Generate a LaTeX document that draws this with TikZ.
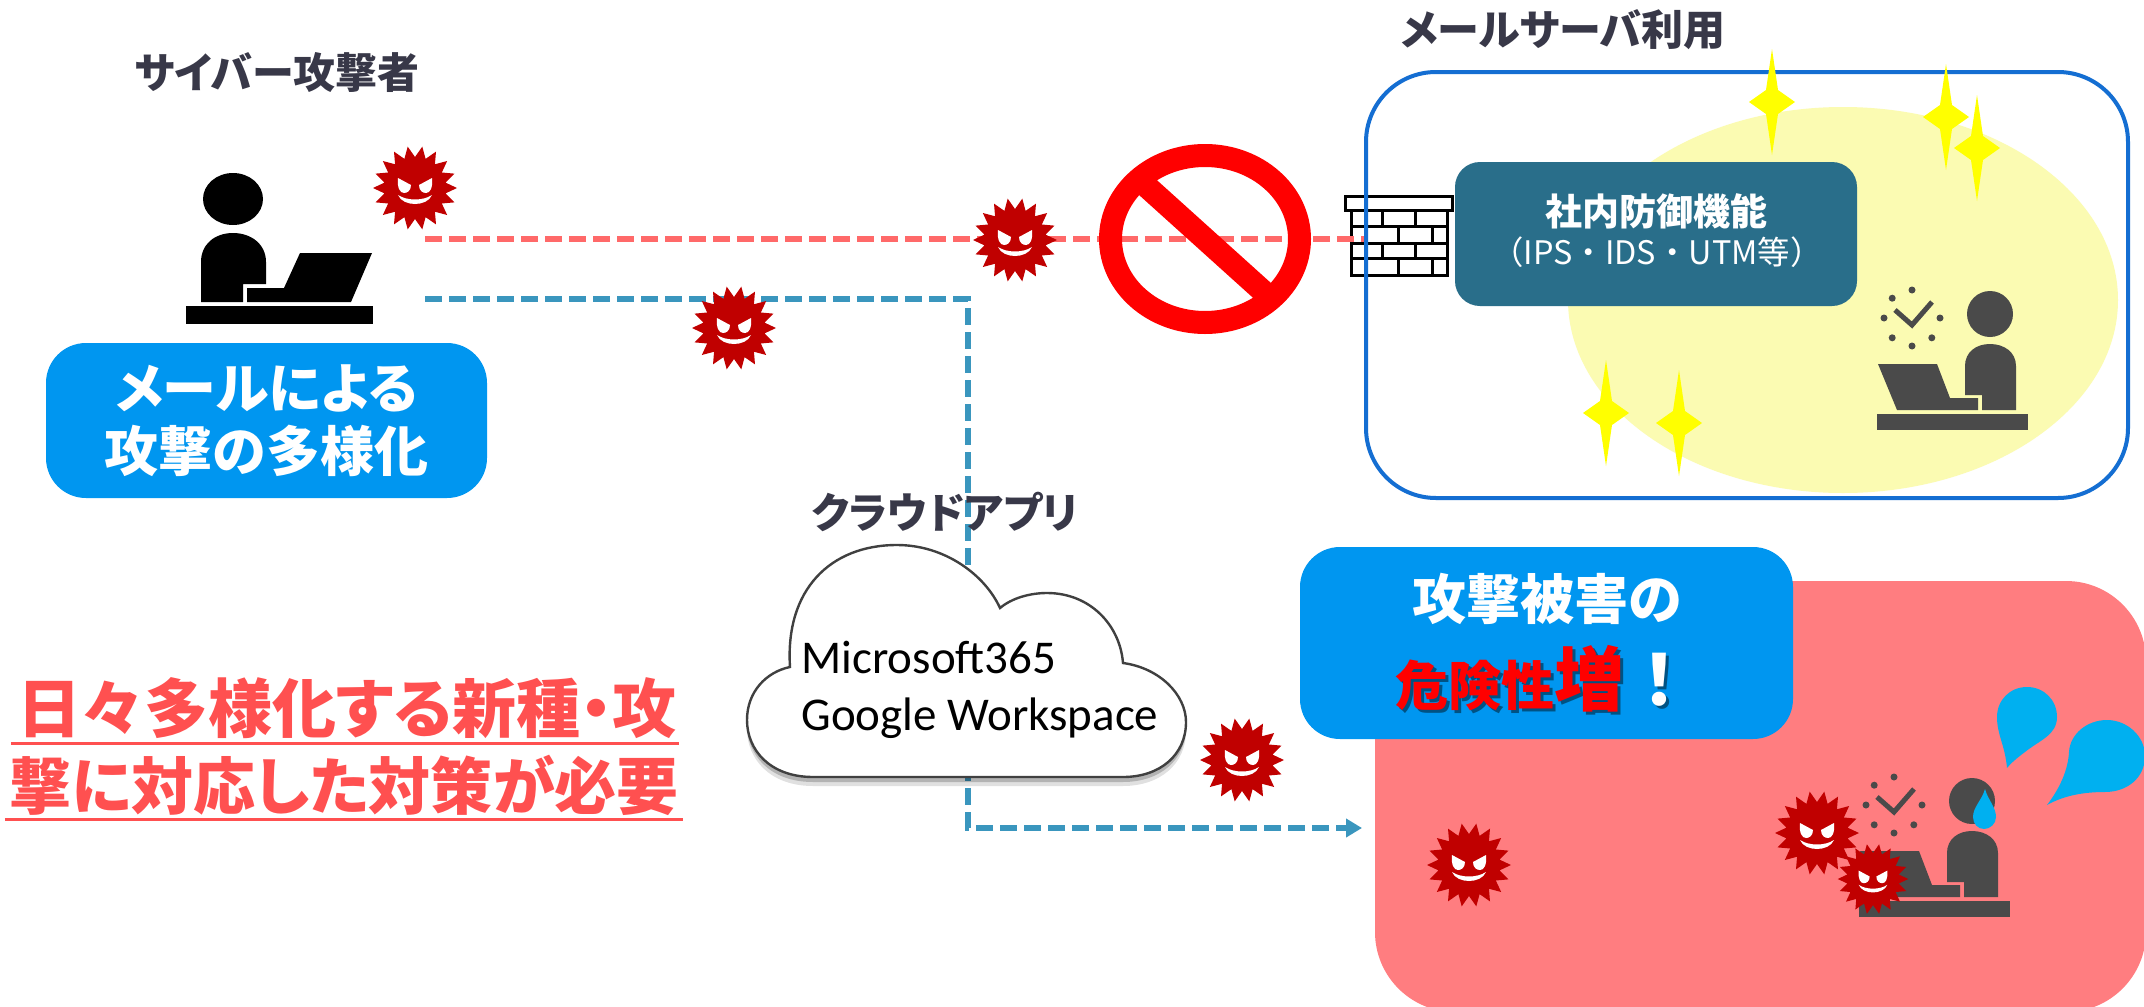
\documentclass[tikz,border=0pt]{standalone}
\usepackage{fontspec}
\usepackage{tikz}
\usetikzlibrary{arrows.meta}

\newfontfamily\jp{Noto Sans CJK JP}[RawFeature=+palt]
\newfontfamily\jpwide{Noto Sans CJK JP}
\newfontfamily\cloudfont{Carlito}

\definecolor{boxblue}{RGB}{0,150,240}
\definecolor{guardteal}{RGB}{41,110,138}
\definecolor{frameblue}{RGB}{20,110,210}
\definecolor{harmpink}{RGB}{255,125,128}
\definecolor{virusred}{RGB}{192,0,0}
\definecolor{mailred}{RGB}{255,105,105}
\definecolor{mailblue}{RGB}{58,150,190}
\definecolor{alertred}{RGB}{255,80,80}
\definecolor{headgray}{RGB}{56,56,72}
\definecolor{workgray}{RGB}{74,74,74}
\definecolor{sweatblue}{RGB}{0,176,240}
\definecolor{sparkyellow}{RGB}{255,255,0}
\definecolor{glowyellow}{RGB}{251,251,178}

\newcommand{\cloudpath}{(813,777) .. controls (770,777) and (747,750) .. (747,720)
	.. controls (747,692) and (766,672) .. (790,667)
	.. controls (785,590) and (830,545) .. (897,545)
	.. controls (945,545) and (985,575) .. (1000,608)
	.. controls (1012,598) and (1030,593) .. (1047,593)
	.. controls (1090,593) and (1120,625) .. (1123,663)
	.. controls (1160,668) and (1186,695) .. (1186,722)
	.. controls (1186,755) and (1160,777) .. (1123,777) -- cycle}

\begin{document}
\begin{tikzpicture}[%
		x=0.5pt, y=-0.5pt,
		headline/.style={inner sep=0pt, text=headgray, font=\jp\bfseries\fontsize{21}{21}\selectfont},
		boxtext/.style={inner sep=0pt, text=white, align=center, font=\jp\bfseries\fontsize{27}{31.5}\selectfont},
		slogan/.style={inner sep=0pt, text=alertred, font=\jp\bfseries\fontsize{32}{32}\selectfont},
		cloudtext/.style={inner sep=0pt, anchor=base west, font=\cloudfont\fontsize{23.5}{23.5}\selectfont},
		mailline/.style={line width=3pt, dash pattern=on 8.5pt off 3.5pt},
		virus/.pic={
			\fill[virusred] (0:42) \foreach \a in {0,20,...,340} {-- (\a:42) -- (\a+10:31)} -- cycle;
			\fill[white] (-17,-10) -- (-4,-3) .. controls (-4,3) and (-8,5) .. (-11,5) .. controls (-15,5) and (-18,0) .. cycle;
			\fill[white] (17,-10) -- (4,-3) .. controls (4,3) and (8,5) .. (11,5) .. controls (15,5) and (18,0) .. cycle;
			\fill[white] (-17,7) .. controls (-8,13) and (8,13) .. (17,7) .. controls (12,19) and (-12,19) .. cycle;
		},
		sparkle/.pic={
			\fill[sparkyellow] (0,-53) -- (6,-12) -- (23,0) -- (6,12) -- (0,53) -- (-6,12) -- (-23,0) -- (-6,-12) -- cycle;
		},
		worker/.pic={
			\fill[workgray] (0,0) circle [radius=23];
			\fill[workgray] (26,96) -- (26,52) .. controls (26,38) and (14,30) .. (0,30) .. controls (-14,30) and (-25,38) .. (-25,52) -- (-25,81) -- (-8,81) -- (-8,96) -- cycle;
			\fill[workgray] (-112,50) -- (-53,50) -- (-40,84) -- (-12,84) -- (-12,96) -- (-93,96) -- cycle;
			\fill[workgray] (-113,100) rectangle (38,116);
			\foreach \a in {0,45,...,270} \fill[workgray] (-78,4) ++(\a:28) circle [radius=3.5];
			\draw[workgray, line width=2.5pt] (-95,-4) -- (-78,11) -- (-58,-12);
		}]
	\useasboundingbox (0,0) rectangle (2144,1007);
	\fill[white] (0,0) rectangle (2144,1007);

	\fill[harmpink, rounded corners=40pt] (1375,581) rectangle (2146,1012);
	\fill[glowyellow] (1843,300) ellipse [x radius=275, y radius=193];
	\node[fill=guardteal, rounded corners=12.5pt, minimum width=201pt, minimum height=72pt] (guard) at (1656,234) {};
	\node[inner sep=0pt, text=white, font=\jp\bfseries\fontsize{18.5}{18.5}\selectfont] (guard-name) at (1656,211) {社内防御機能};
	\node[inner sep=0pt, text=white, font=\jpwide\fontsize{16.2}{16.2}\selectfont] (guard-list) at (1657,252) {（IPS・IDS・UTM等）};

	\begin{scope}[line width=1.5pt]
		\filldraw[fill=white] (1345,196) rectangle (1452,210);
		\filldraw[fill=white] (1351,210) rectangle (1447,275);
		\draw (1351,226) -- (1447,226) (1351,243) -- (1447,243) (1351,258) -- (1447,258);
		\foreach \x in {1382,1415} \draw (\x,210) -- (\x,226) (\x,243) -- (\x,258);
		\foreach \x in {1365,1398,1432} \draw (\x,226) -- (\x,243) (\x,258) -- (\x,275);
	\end{scope}

	\coordinate (atk-mail) at (425,239);
	\coordinate (wall-in) at (1366,239);
	\coordinate (atk-app) at (425,299);
	\coordinate (app) at (968,690);
	\coordinate (harm-in) at (1362,828);
	\draw[mailline, mailred] (atk-mail) -- (wall-in);
	\draw[mailline, mailblue, -{Triangle[length=8pt, width=9pt]}] (atk-app) -| (app) |- (harm-in);

	\draw[frameblue, line width=2pt, rounded corners=35pt] (1366,72) rectangle (2128,498);
	\foreach \p in {(1772,102), (1946,117), (1977,148), (1606,413), (1679,423)}
		\pic at \p {sparkle};
	\pic at (1990,314) {worker};

	\fill[black, opacity=0.12, shift={(0,9)}] \cloudpath;
	\fill[black, opacity=0.2, shift={(0,5)}] \cloudpath;
	\filldraw[fill=white, draw=black!75, line width=1.2pt] \cloudpath;
	\node[cloudtext] (ms365) at (801,673) {Microsoft365};
	\node[cloudtext] (gws) at (801,730) {Google Workspace};

	\draw[red, line width=11.5pt] (1205,239) ellipse [x radius=94.5, y radius=83.5];
	\begin{scope}
		\clip (1205,239) ellipse [x radius=100, y radius=89];
		\draw[red, line width=11.5pt] (1205,239) ++(-112,-101) -- ++(224,202);
	\end{scope}

	\fill[black] (233,199) ellipse [x radius=30, y radius=26];
	\fill[black] (201,302) -- (201,262) .. controls (201,244) and (215,233) .. (233,233) .. controls (251,233) and (266,244) .. (266,262) -- (266,284) -- (243,284) -- (243,302) -- cycle;
	\fill[black] (247,288) -- (284,288) -- (300,253) -- (372,253) -- (351,302) -- (247,302) -- cycle;
	\fill[black] (186,306) rectangle (373,324);

	\pic at (1972,801) {worker};
	\fill[sweatblue] (1985,789) .. controls (1988,800) and (1996,807) .. (1996,817) .. controls (1996,824) and (1990,829) .. (1984,829) .. controls (1978,829) and (1973,824) .. (1973,817) .. controls (1973,807) and (1982,800) .. cycle;
	\fill[sweatblue] (2007,768) .. controls (2005,745) and (1997,735) .. (1997,717) .. controls (1997,700) and (2010,687) .. (2027,687) .. controls (2044,687) and (2057,700) .. (2057,717) .. controls (2057,735) and (2040,740) .. (2025,752) .. controls (2017,758) and (2011,763) .. cycle;
	\fill[sweatblue] (2047,805) .. controls (2060,788) and (2068,770) .. (2069,752) .. controls (2070,734) and (2087,720) .. (2107,720) .. controls (2127,720) and (2145,736) .. (2145,756) .. controls (2145,778) and (2127,792) .. (2105,792) .. controls (2085,792) and (2065,795) .. cycle;

	\foreach \p in {(415,188), (734,328), (1015,240), (1242,760), (1469,865), (1817,833)}
		\pic at \p {virus};
	\pic[scale=0.84] at (1873,879) {virus};

	\node[headline] (atk-title) at (277,72) {サイバー攻撃者};
	\node[headline] (srv-title) at (1563,30) {メールサーバ利用};
	\node[headline] (cloud-title) at (945,512) {クラウドアプリ};

	\node[fill=boxblue, rounded corners=20pt, minimum width=220.5pt, minimum height=77.5pt, boxtext] (diverse) at (266.5,420.5) {メールによる\\攻撃の多様化};

	\node[fill=boxblue, rounded corners=20pt, minimum width=246.5pt, minimum height=96pt] (harm) at (1546.5,643) {};
	\node[boxtext] (harm-a) at (1547,599) {攻撃被害の};
	\node[inner sep=0pt, anchor=base, text=black, opacity=0.45, font=\jpwide\bfseries\fontsize{26.5}{26.5}\selectfont] (harm-b-shade) at (1548,708) {危険性{\fontsize{35}{35}\selectfont 増！}};
	\node[inner sep=0pt, anchor=base, text=red, font=\jpwide\bfseries\fontsize{26.5}{26.5}\selectfont] (harm-b) at (1545,705) {危険性{\fontsize{35}{35}\selectfont 増\textcolor{white}{！}}};

	\node[slogan] (slogan-a) at (347,708) {日々多様化する新種・攻};
	\node[slogan, font=\jp\bfseries\fontsize{31}{31}\selectfont] (slogan-b) at (344,785) {撃に対応した対策が必要};
	\draw[alertred, line width=1.5pt] ([xshift=-3pt, yshift=-2pt]slogan-a.south west) -- ([xshift=1pt, yshift=-2pt]slogan-a.south east);
	\draw[alertred, line width=1.5pt] ([xshift=-2pt, yshift=-2pt]slogan-b.south west) -- ([xshift=2pt, yshift=-2pt]slogan-b.south east);
\end{tikzpicture}
\end{document}
